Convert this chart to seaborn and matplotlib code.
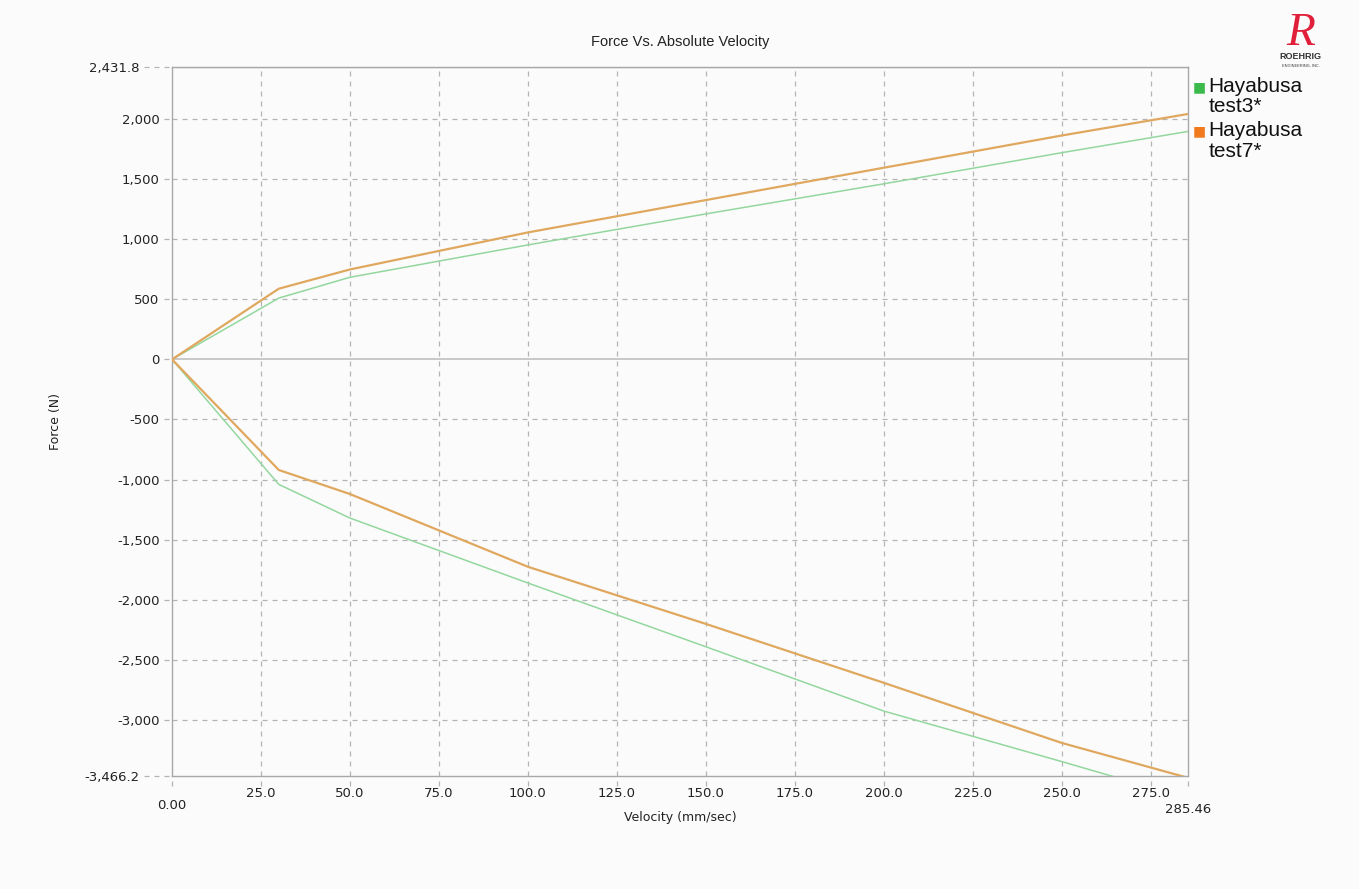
import matplotlib
matplotlib.use("Agg")
import matplotlib.pyplot as plt
import matplotlib.transforms as mtrans
import seaborn as sns
import pandas as pd

# shock dyno readings
velocity = [0, 30, 50, 100, 150, 200, 250, 285.46]
test3_comp = [0, 510, 683, 952, 1210, 1460, 1719, 1896]
test3_reb = [0, -1040, -1320, -1860, -2390, -2925, -3345, -3650]
test7_comp = [0, 588, 748, 1056, 1325, 1594, 1862, 2041]
test7_reb = [0, -920, -1120, -1725, -2200, -2690, -3190, -3480]

series = ["Hayabusa\ntest3*", "Hayabusa\ntest7*"]
line_colors = ["#93d79e", "#dfa85e"]
legend_colors = ["#3cb94b", "#f07a1c"]

y_min, y_max = -3466.2, 2431.8
x_max = 285.46
xticks = [0, 25, 50, 75, 100, 125, 150, 175, 200, 225, 250, 275]
yticks = [2000, 1500, 1000, 500, 0, -500, -1000, -1500, -2000, -2500, -3000]

rows = []
for name, comp, reb in [(series[0], test3_comp, test3_reb), (series[1], test7_comp, test7_reb)]:
    for v, c in zip(velocity, comp):
        rows.append((name, "comp", v, c))
    for v, r in zip(velocity, reb):
        rows.append((name, "reb", v, r))
df = pd.DataFrame(rows, columns=["test", "branch", "vel", "force"])

sns.set_style("white")
plt.rcParams["font.family"] = ["DejaVu Sans"]

fig = plt.figure(figsize=(13.59, 8.89), dpi=100, facecolor="#fcfbfc")
ax = fig.add_axes([0.1266, 0.127, 0.7474, 0.7976])
ax.set_facecolor("#fcfbfc")

grid_c = "#b4b4b4"
for i, name in enumerate(series):
    sub = df[df.test == name]
    sns.lineplot(data=sub, x="vel", y="force", units="branch", estimator=None,
                 color=line_colors[i], lw=1.1 if i == 0 else 1.6, ax=ax,
                 legend=False, zorder=3)

ax.set_xlim(0, x_max)
ax.set_ylim(y_min, y_max)

# grid
for x in xticks[1:]:
    ax.axvline(x, color=grid_c, ls=(0, (4, 4)), lw=0.9, zorder=1)
for y in yticks:
    if y == 0:
        ax.axhline(0, color="#c0c0c0", lw=1.2, zorder=1)
    else:
        ax.axhline(y, color=grid_c, ls=(0, (4, 4)), lw=0.9, zorder=1)
ax.axhline(y_max, color=grid_c, lw=0.9, zorder=1)

# dashed tick stubs outside the plot
bt = mtrans.blended_transform_factory(ax.transAxes, ax.transData)
ax.hlines(yticks, -0.008, 0, transform=bt, colors=grid_c, linestyles=(0, (4, 4)),
          lw=0.9, clip_on=False)
ax.hlines([y_max, y_min], -0.028, 0, transform=bt, colors=grid_c,
          linestyles=(0, (4, 4)), lw=0.9, clip_on=False)
bx = mtrans.blended_transform_factory(ax.transData, ax.transAxes)
ax.vlines(xticks + [x_max], -0.014, 0, transform=bx, colors=grid_c,
          linestyles=(0, (4, 4)), lw=0.9, clip_on=False)

for side in ["left", "bottom", "right", "top"]:
    ax.spines[side].set_color("#a8a8a8")
    ax.spines[side].set_linewidth(1.0)

ax.tick_params(length=0, labelsize=9.5, labelcolor="#222222")
ax.set_yticks([y_max] + yticks + [y_min])
ax.set_yticklabels(["2,431.8"] + [f"{v:,}" for v in yticks] + ["-3,466.2"])
ax.tick_params(axis="y", pad=9)
ax.set_xticks(xticks + [x_max])
ax.set_xticklabels(["0.00"] + [f"{v:.1f}" for v in xticks[1:]] + ["285.46"])
ax.tick_params(axis="x", pad=8)

ylabs = ax.get_yticklabels()
for lbl in (ylabs[0], ylabs[-1]):
    lbl.set_transform(lbl.get_transform() + mtrans.ScaledTranslation(-0.2, 0, fig.dpi_scale_trans))
xlabs = ax.get_xticklabels()
xlabs[0].set_transform(xlabs[0].get_transform() + mtrans.ScaledTranslation(0, -0.12, fig.dpi_scale_trans))
xlabs[-1].set_transform(xlabs[-1].get_transform() + mtrans.ScaledTranslation(0, -0.16, fig.dpi_scale_trans))

ax.set_xlabel("Velocity (mm/sec)", fontsize=9, color="#222222")
ax.xaxis.set_label_coords(0.5, -0.049)
ax.set_ylabel("Force (N)", fontsize=9, color="#222222")
ax.yaxis.set_label_coords(-0.108, 0.5)
ax.set_title("Force Vs. Absolute Velocity", fontsize=10.5, color="#222222",
             family="Liberation Sans", pad=15)

# legend on the right
for i, name in enumerate(series):
    yy = 0.902 - i * 0.05
    fig.text(0.878, yy, "\u25A0", color=legend_colors[i], fontsize=10,
             va="center", ha="left")
    fig.text(0.889, yy + 0.0115, name, fontsize=15, family="Liberation Sans",
             color="#111111", va="top", ha="left", linespacing=1.1)

# logo
fig.text(0.957, 0.962, "R", color="#e0203a", fontsize=34, style="italic",
         family="Liberation Serif", ha="center", va="center")
fig.text(0.957, 0.936, "ROEHRIG", color="#333333", fontsize=6.5, weight="bold",
         family="Liberation Sans", ha="center", va="center")
fig.text(0.957, 0.926, "ENGINEERING, INC.", color="#333333", fontsize=2.8,
         family="Liberation Sans", ha="center", va="center")

fig.savefig("out.png", dpi=100, facecolor=fig.get_facecolor())
